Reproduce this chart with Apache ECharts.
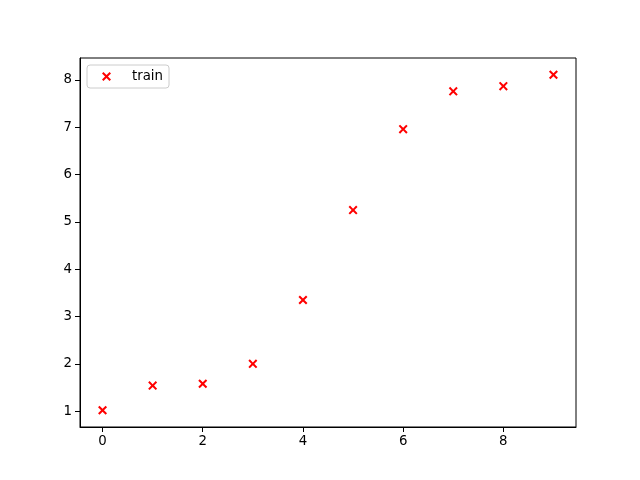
<!DOCTYPE html>
<html>
<head>
<meta charset="utf-8">
<script src="https://cdn.jsdelivr.net/npm/echarts@6/dist/echarts.min.js"></script>
<style>html,body{margin:0;padding:0;background:#fff}#c{width:640px;height:480px}</style>
</head>
<body>
<div id="c"></div>
<script>
const xValues = [0, 1, 2, 3, 4, 5, 6, 7, 8, 9];
const yValues = [1.02, 1.54, 1.58, 2.0, 3.35, 5.25, 6.96, 7.76, 7.87, 8.11];
const xTicks = [0, 2, 4, 6, 8];
const yTicks = [1, 2, 3, 4, 5, 6, 7, 8];
const seriesName = 'train';

const d = 1.6;
const crossPath = 'path://M0,' + d + 'L' + d + ',0L5,' + (5 - d) + 'L' + (10 - d) + ',0L10,' + d +
  'L' + (5 + d) + ',5L10,' + (10 - d) + 'L' + (10 - d) + ',10L5,' + (5 + d) + 'L' + d + ',10L0,' + (10 - d) +
  'L' + (5 - d) + ',5Z';

const font = 'DejaVu Sans';
const xmin = Math.min(...xValues), xmax = Math.max(...xValues);
const ymin = Math.min(...yValues), ymax = Math.max(...yValues);
const xm = (xmax - xmin) * 0.05, ym = (ymax - ymin) * 0.05;

const chart = echarts.init(document.getElementById('c'), null, {renderer: 'canvas'});
chart.setOption({
  animation: false,
  backgroundColor: '#fff',
  grid: {left: 80, right: 64, top: 58, bottom: 53, show: true, borderColor: '#000', borderWidth: 1, backgroundColor: 'transparent'},
  legend: {
    left: 87, top: 65,
    data: [{name: seriesName, icon: crossPath}],
    itemWidth: 9, itemHeight: 9,
    padding: [5, 6, 5, 15],
    borderColor: '#cccccc', borderWidth: 1, borderRadius: 3,
    backgroundColor: 'rgba(255,255,255,0.8)',
    textStyle: {fontFamily: font, fontSize: 13.33, color: '#000', padding: [0, 0, 0, 16]}
  },
  xAxis: {
    type: 'value', min: xmin - xm, max: xmax + xm,
    axisLine: {show: true, onZero: false, lineStyle: {color: '#000', width: 1}},
    axisTick: {show: true, length: 5, lineStyle: {color: '#000', width: 1}, customValues: xTicks},
    axisLabel: {fontFamily: font, fontSize: 13.33, color: '#000', margin: 8, customValues: xTicks},
    splitLine: {show: false}
  },
  yAxis: {
    type: 'value', min: ymin - ym, max: ymax + ym,
    axisLine: {show: true, onZero: false, lineStyle: {color: '#000', width: 1}},
    axisTick: {show: true, length: 5, lineStyle: {color: '#000', width: 1}, customValues: yTicks},
    axisLabel: {fontFamily: font, fontSize: 13.33, color: '#000', margin: 8, customValues: yTicks},
    splitLine: {show: false}
  },
  series: [{
    name: seriesName, type: 'scatter',
    symbol: crossPath, symbolSize: 9,
    itemStyle: {color: '#ff0000', opacity: 1},
    data: xValues.map((x, i) => [x, yValues[i]])
  }]
});
</script>
</body>
</html>
